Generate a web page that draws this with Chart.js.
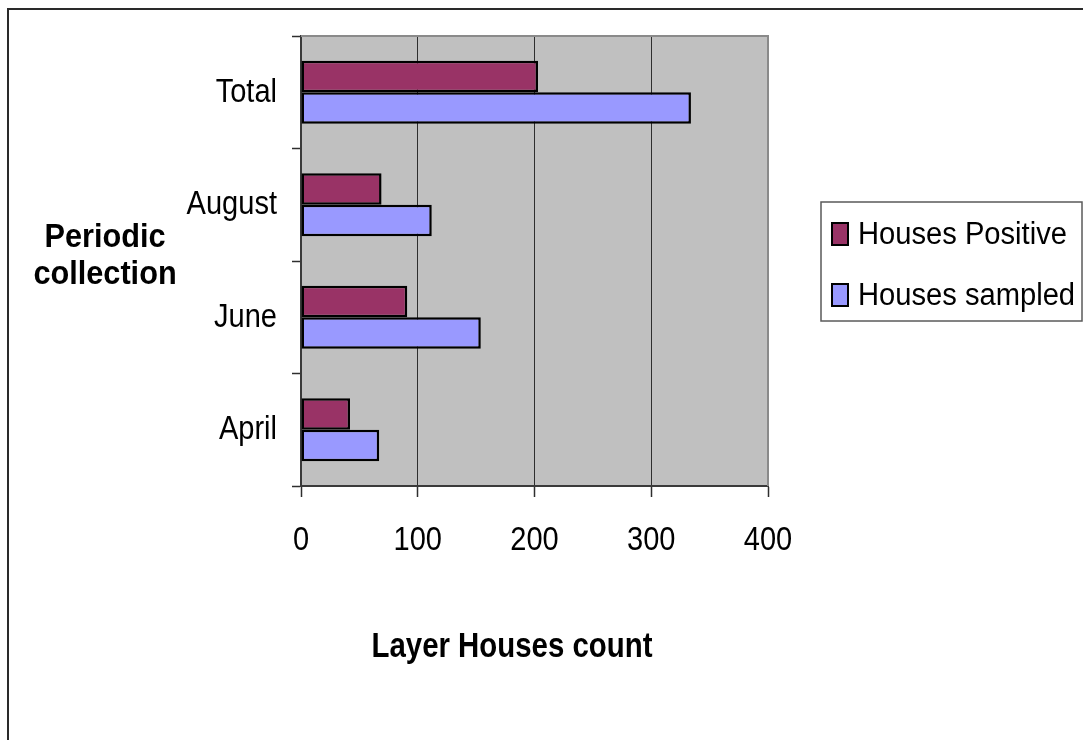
<!DOCTYPE html>
<html>
<head>
<meta charset="utf-8">
<script src="https://cdn.jsdelivr.net/npm/chart.js@4/dist/chart.umd.min.js"></script>
<style>
  html, body { margin: 0; padding: 0; background: #ffffff; }
  #wrap { width: 1083px; height: 740px; }
</style>
</head>
<body>
<div id="wrap"><canvas id="c" width="1083" height="740"></canvas></div>
<script>
// Collection periods, listed from top to bottom
const categories = ['Total', 'August', 'June', 'April'];
// Layer houses found positive in each period
const housesPositive = [203, 69, 91, 42];
// Layer houses sampled in each period
const housesSampled = [334, 112, 154, 67];
// Count axis ticks
const xTicks = [0, 100, 200, 300, 400];
const seriesNames = ['Houses Positive', 'Houses sampled'];
const xTitle = 'Layer Houses count';
const yTitleLines = ['Periodic', 'collection'];

const FONT = '"Liberation Sans", Arial, sans-serif';
const INK = '#000000';
const GRID = '#2e2e2e';

// Text in a condensed (horizontally squeezed) face
function narrowText(ctx, text, x, y, align, font, squeeze) {
  ctx.save();
  ctx.translate(x, y);
  ctx.scale(squeeze, 1);
  ctx.font = font;
  ctx.textAlign = align;
  ctx.textBaseline = 'alphabetic';
  ctx.fillStyle = INK;
  ctx.fillText(text, 0, 0);
  ctx.restore();
}

// Page frame, grey plot background and plot border
const backdrop = {
  id: 'backdrop',
  beforeDraw(chart) {
    const { ctx, chartArea: a, width, height } = chart;
    ctx.save();
    ctx.fillStyle = '#ffffff';
    ctx.fillRect(0, 0, width, height);
    ctx.strokeStyle = '#2a2a2a';
    ctx.lineWidth = 2;
    ctx.beginPath();
    ctx.moveTo(8, height);
    ctx.lineTo(8, 9);
    ctx.lineTo(width, 9);
    ctx.stroke();
    ctx.fillStyle = '#c0c0c0';
    ctx.fillRect(a.left, a.top, a.right - a.left, a.bottom - a.top);
    ctx.restore();
  },
  beforeDatasetsDraw(chart) {
    const { ctx, chartArea: a } = chart;
    ctx.save();
    ctx.strokeStyle = '#8a8a8a';
    ctx.lineWidth = 2;
    ctx.beginPath();
    ctx.moveTo(a.left, a.top);
    ctx.lineTo(a.right, a.top);
    ctx.lineTo(a.right, a.bottom);
    ctx.stroke();
    ctx.restore();
  }
};

// Tick labels, axis titles and the boxed legend
const annotations = {
  id: 'annotations',
  afterDraw(chart) {
    const { ctx, chartArea: a } = chart;
    const xs = chart.scales.x, ys = chart.scales.y;

    xs.ticks.forEach((t, i) => {
      narrowText(ctx, String(t.label), xs.getPixelForTick(i), 550, 'center', '33px ' + FONT, 0.88);
    });
    ys.ticks.forEach((t, i) => {
      narrowText(ctx, String(t.label), a.left - 24, ys.getPixelForTick(i) + 9.5, 'right', '33px ' + FONT, 0.88);
    });

    narrowText(ctx, xTitle, a.left + 211, 657, 'center', 'bold 35px ' + FONT, 0.84);
    yTitleLines.forEach((line, i) => {
      narrowText(ctx, line, 105, 247 + i * 37, 'center', 'bold 33px ' + FONT, 0.93);
    });

    // legend
    const lx = a.right + 53, ly = 202, lw = chart.width - 1 - lx, lh = 119;
    ctx.save();
    ctx.strokeStyle = '#5a5a5a';
    ctx.lineWidth = 1.5;
    ctx.strokeRect(lx, ly, lw, lh);
    chart.data.datasets.forEach((ds, i) => {
      const top = ly + 21 + i * 61;
      ctx.fillStyle = ds.backgroundColor;
      ctx.fillRect(lx + 11, top, 16, 22);
      ctx.strokeStyle = '#000000';
      ctx.lineWidth = 2;
      ctx.strokeRect(lx + 11, top, 16, 22);
      narrowText(ctx, ds.label, lx + 37, top + 21, 'left', '31px ' + FONT, 0.94);
    });
    ctx.restore();
  }
};

new Chart(document.getElementById('c'), {
  type: 'bar',
  data: {
    labels: categories,
    datasets: [
      {
        label: seriesNames[0],
        data: housesPositive,
        backgroundColor: '#993366',
        borderColor: '#000000',
        borderWidth: 2.5,
        borderSkipped: false,
        categoryPercentage: 0.56,
        barPercentage: 1.0
      },
      {
        label: seriesNames[1],
        data: housesSampled,
        backgroundColor: '#9999ff',
        borderColor: '#000000',
        borderWidth: 2.5,
        borderSkipped: false,
        categoryPercentage: 0.56,
        barPercentage: 1.0
      }
    ]
  },
  options: {
    indexAxis: 'y',
    responsive: false,
    animation: false,
    devicePixelRatio: 1,
    layout: { padding: { left: 0, top: 36, right: 315, bottom: 0 } },
    plugins: {
      legend: { display: false },
      tooltip: { enabled: false }
    },
    scales: {
      x: {
        min: xTicks[0],
        max: xTicks[xTicks.length - 1],
        afterBuildTicks(scale) { scale.ticks = xTicks.map(v => ({ value: v })); },
        ticks: { display: false },
        grid: { color: GRID, lineWidth: 1, tickLength: 11, tickColor: GRID, tickWidth: 1.5 },
        border: { display: true, color: '#3a3a3a', width: 2 },
        afterFit(scale) { scale.height = 254; }
      },
      y: {
        ticks: { display: false },
        grid: { drawOnChartArea: false, offset: true, tickLength: 9, tickColor: GRID, tickWidth: 1.5 },
        border: { display: true, color: '#3a3a3a', width: 2 },
        afterFit(scale) { scale.width = 301; }
      }
    }
  },
  plugins: [backdrop, annotations]
});
</script>
</body>
</html>
